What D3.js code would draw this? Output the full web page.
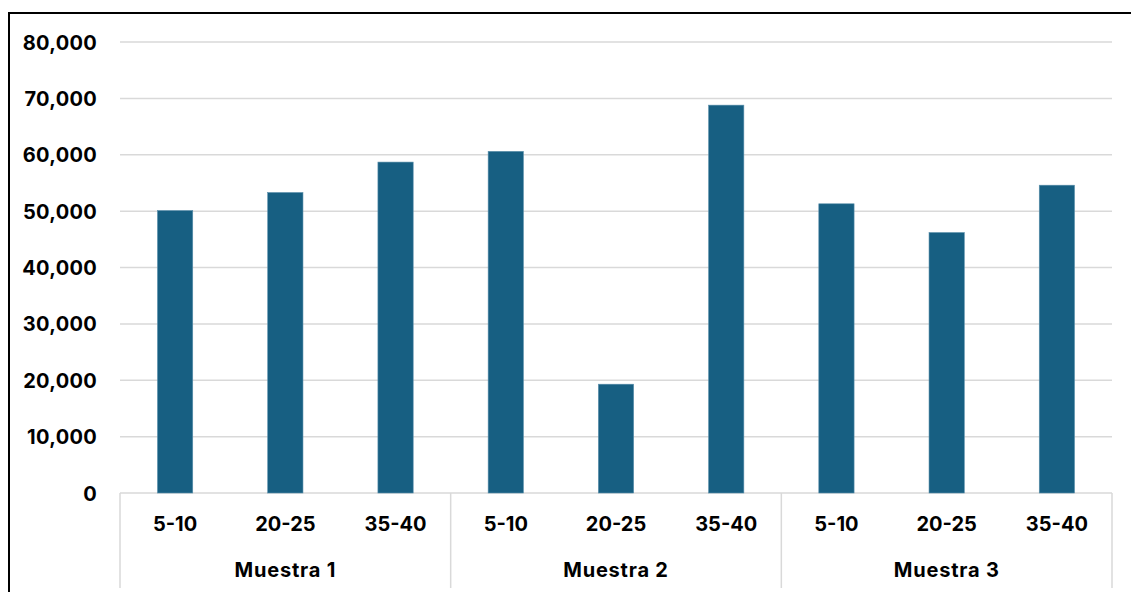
<!DOCTYPE html>
<html>
<head>
<meta charset="utf-8">
<script src="https://cdn.jsdelivr.net/npm/d3@7"></script>
<style>
  html, body { margin: 0; padding: 0; background: #fff; }
  svg { display: block; }
  text { font-family: Inter, "Liberation Sans", sans-serif; font-weight: 700; fill: #000; }
</style>
</head>
<body>
<svg id="chart" width="1131" height="592"></svg>
<script>
// Sample groups and the age ranges inside each
const groups = ["Muestra 1", "Muestra 2", "Muestra 3"];
const ranges = ["5-10", "20-25", "35-40"];
// Values per group, in the order of `ranges`
const muestra1 = [50100, 53300, 58700];
const muestra2 = [60600, 19300, 68800];
const muestra3 = [51300, 46200, 54600];
const yTicks = [0, 10000, 20000, 30000, 40000, 50000, 60000, 70000, 80000];

const seriesByGroup = [muestra1, muestra2, muestra3];
const rows = [];
groups.forEach((g, gi) => {
  ranges.forEach((r, ri) => {
    rows.push({ group: g, range: r, key: g + "|" + r, value: seriesByGroup[gi][ri] });
  });
});

const svg = d3.select("#chart");
const plotLeft = 120, plotRight = 1112, plotTop = 42, plotBottom = 493;

const x = d3.scaleBand()
  .domain(rows.map(d => d.key))
  .range([plotLeft, plotRight])
  .paddingInner(0.68)
  .paddingOuter(0.34);

const y = d3.scaleLinear().domain([0, 80000]).range([plotBottom, plotTop]);

const gridColor = "#d9d9d9";

// Horizontal gridlines
svg.append("g")
  .selectAll("line")
  .data(yTicks)
  .join("line")
  .attr("x1", plotLeft).attr("x2", plotRight)
  .attr("y1", d => y(d)).attr("y2", d => y(d))
  .attr("stroke", gridColor)
  .attr("stroke-width", 1.5);

// Y axis labels
const yAxis = d3.axisLeft(y).tickValues(yTicks).tickFormat(d3.format(",")).tickSize(0).tickPadding(0);
const ya = svg.append("g").attr("transform", "translate(97,0)").call(yAxis);
ya.attr("font-family", null).attr("font-size", null);
ya.select(".domain").remove();
ya.selectAll("text")
  .style("font-size", "20px")
  .style("letter-spacing", "0.3px")
  .attr("dy", "0.35em");

// Bars
svg.append("g")
  .selectAll("rect")
  .data(rows)
  .join("rect")
  .attr("x", d => x(d.key))
  .attr("width", x.bandwidth())
  .attr("y", d => y(d.value))
  .attr("height", d => y(0) - y(d.value))
  .attr("fill", "#175f82")
  .attr("stroke", "#5a8fab")
  .attr("stroke-width", 0.6);

// Category labels under each bar
svg.append("g")
  .selectAll("text")
  .data(rows)
  .join("text")
  .attr("x", d => x(d.key) + x.bandwidth() / 2)
  .attr("y", 531)
  .attr("text-anchor", "middle")
  .style("font-size", "20px")
  .text(d => d.range);

// Group boundaries
const step = x.step();
const bounds = d3.range(groups.length + 1).map(i => plotLeft + i * ranges.length * step);
svg.append("g")
  .selectAll("line")
  .data(bounds)
  .join("line")
  .attr("x1", d => d).attr("x2", d => d)
  .attr("y1", plotBottom).attr("y2", 588)
  .attr("stroke", gridColor)
  .attr("stroke-width", 1.5);

// Group labels
svg.append("g")
  .selectAll("text")
  .data(groups)
  .join("text")
  .attr("x", (d, i) => (bounds[i] + bounds[i + 1]) / 2)
  .attr("y", 577)
  .attr("text-anchor", "middle")
  .style("font-size", "20px")
  .style("letter-spacing", "0.8px")
  .text(d => d);

// Outer frame (left and top edges)
svg.append("path")
  .attr("d", "M9,592V13H1131")
  .attr("fill", "none")
  .attr("stroke", "#000")
  .attr("stroke-width", 2);
</script>
</body>
</html>
